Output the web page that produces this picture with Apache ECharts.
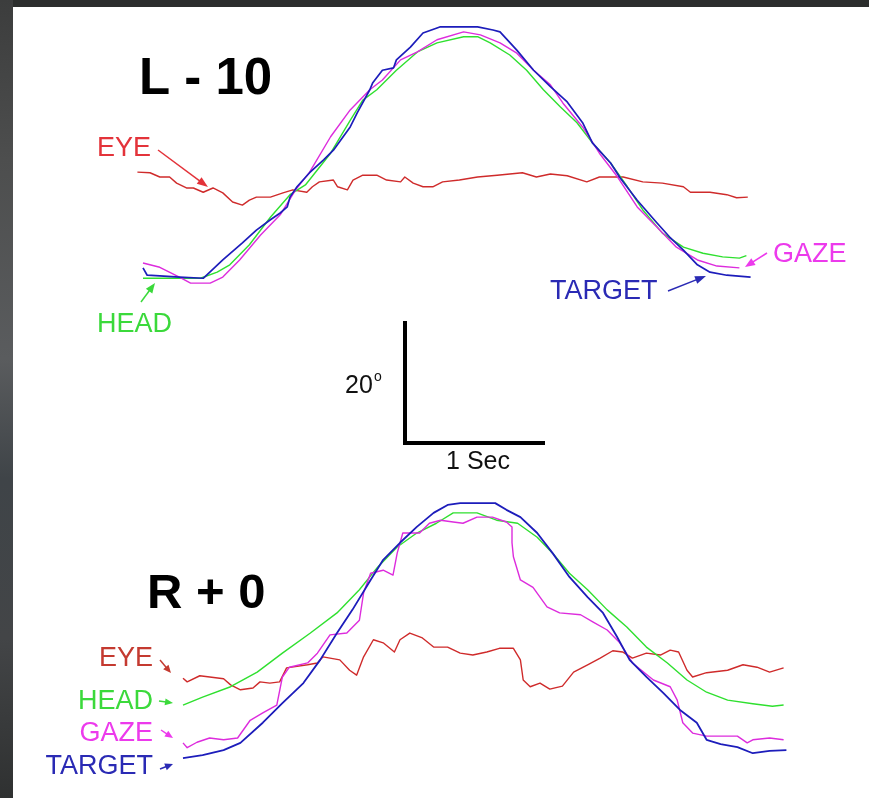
<!DOCTYPE html>
<html><head><meta charset="utf-8">
<script src="https://cdn.jsdelivr.net/npm/echarts@6.0.0/dist/echarts.min.js"></script>
<style>
html,body{margin:0;padding:0;background:#2e302f;overflow:hidden;}
#chart{width:869px;height:798px;}
</style></head>
<body><div id="chart"></div>
<script>
// ---- Data: [time (s), angle (deg)] ----
const topTitle = 'L - 10';
const bottomTitle = 'R + 0';
const traceNames = ['EYE', 'HEAD', 'GAZE', 'TARGET'];
const scaleBarSec = 1;
const scaleBarDeg = 20;

const topEye = [[-0.04,-3.3],[0.05,-3.4],[0.12,-4.1],[0.19,-4.1],[0.24,-5.1],[0.31,-5.9],[0.36,-5.9],[0.43,-6.6],[0.50,-5.9],[0.57,-6.7],[0.64,-8.2],[0.71,-8.7],[0.76,-7.9],[0.81,-7.4],[0.91,-7.4],[1.00,-6.7],[1.07,-6.2],[1.17,-6.6],[1.21,-5.7],[1.26,-4.9],[1.36,-4.6],[1.39,-5.7],[1.46,-6.2],[1.50,-4.6],[1.57,-3.8],[1.67,-3.8],[1.74,-4.6],[1.84,-4.9],[1.87,-4.1],[1.93,-5.1],[2.00,-5.7],[2.07,-5.7],[2.14,-4.9],[2.26,-4.6],[2.39,-4.1],[2.53,-3.8],[2.71,-3.4],[2.81,-4.1],[2.91,-3.6],[3.03,-3.9],[3.17,-4.9],[3.26,-4.1],[3.43,-4.1],[3.57,-4.9],[3.71,-5.1],[3.86,-5.7],[3.91,-6.6],[4.05,-6.6],[4.17,-7.0],[4.24,-7.5],[4.32,-7.4]];
const topHead = [[0,-20.7],[0.26,-20.7],[0.41,-20.7],[0.53,-19.7],[0.62,-18.5],[0.76,-15.2],[0.91,-10.7],[1.05,-7.0],[1.16,-5.4],[1.34,-0.2],[1.48,5.2],[1.57,8.5],[1.67,10.2],[1.81,13.4],[1.96,16.4],[2.10,17.9],[2.29,18.9],[2.39,18.9],[2.48,17.9],[2.62,15.9],[2.74,13.4],[2.86,10.2],[2.98,7.4],[3.10,4.8],[3.21,1.5],[3.34,-1.8],[3.46,-5.7],[3.57,-9.5],[3.71,-13.3],[3.86,-15.6],[4.00,-16.6],[4.14,-17.2],[4.26,-17.4],[4.31,-17.0]];
const topGaze = [[0,-18.2],[0.12,-18.9],[0.26,-20.5],[0.34,-21.5],[0.48,-21.5],[0.57,-20.5],[0.69,-17.7],[0.84,-13.6],[0.98,-10.3],[1.09,-6.2],[1.19,-3.3],[1.34,2.5],[1.48,6.9],[1.62,10.2],[1.71,11.8],[1.84,15.1],[1.96,16.4],[2.10,18.4],[2.29,19.7],[2.41,19.2],[2.55,17.9],[2.67,16.2],[2.79,13.4],[2.91,11.0],[3.00,8.0],[3.14,4.1],[3.26,-0.2],[3.39,-4.1],[3.53,-9.0],[3.67,-12.3],[3.81,-15.6],[3.96,-17.7],[4.10,-18.7],[4.26,-19.0]];
const topTarget = [[0,-19.0],[0.03,-20.2],[0.12,-20.3],[0.26,-20.5],[0.43,-20.7],[0.57,-17.7],[0.71,-14.9],[0.81,-12.8],[0.91,-11.1],[0.98,-10.0],[1.03,-9.0],[1.05,-7.4],[1.10,-5.7],[1.19,-3.4],[1.29,-1.3],[1.36,0.3],[1.48,4.1],[1.53,6.4],[1.62,10.2],[1.64,11.3],[1.71,13.4],[1.79,13.8],[1.81,15.1],[1.91,17.2],[2.00,19.5],[2.12,20.5],[2.39,20.5],[2.50,20.0],[2.55,19.7],[2.67,16.7],[2.79,13.4],[2.91,10.7],[3.03,8.2],[3.14,4.8],[3.21,1.5],[3.34,-1.8],[3.41,-4.3],[3.53,-7.9],[3.67,-11.6],[3.76,-13.9],[3.86,-16.1],[3.96,-18.5],[4.05,-19.7],[4.17,-20.2],[4.34,-20.5]];

const botEye = [[0,-7.9],[0.03,-8.5],[0.12,-7.5],[0.29,-8.0],[0.34,-9.0],[0.41,-9.8],[0.50,-9.5],[0.55,-8.5],[0.62,-8.7],[0.69,-8.5],[0.74,-6.2],[0.89,-5.7],[0.96,-5.4],[1.00,-4.4],[1.12,-4.9],[1.19,-6.6],[1.24,-7.4],[1.29,-4.4],[1.36,-1.6],[1.43,-2.1],[1.51,-3.6],[1.55,-1.6],[1.62,-0.5],[1.71,-1.3],[1.79,-2.8],[1.89,-2.8],[1.98,-3.8],[2.07,-4.1],[2.17,-3.6],[2.26,-3.0],[2.36,-3.0],[2.41,-4.9],[2.43,-8.2],[2.48,-9.3],[2.55,-8.7],[2.62,-9.7],[2.71,-9.2],[2.79,-6.9],[2.89,-5.7],[2.98,-4.6],[3.07,-3.4],[3.14,-3.6],[3.21,-4.6],[3.31,-3.8],[3.41,-4.1],[3.48,-3.3],[3.54,-3.6],[3.60,-6.6],[3.64,-7.7],[3.74,-7.0],[3.89,-6.6],[4.00,-5.7],[4.10,-6.1],[4.19,-6.9],[4.29,-6.2]];
const botHead = [[0,-12.3],[0.14,-11.0],[0.34,-9.3],[0.53,-6.9],[0.71,-3.8],[0.91,-0.5],[1.10,2.8],[1.26,6.6],[1.39,10.3],[1.53,13.6],[1.67,15.9],[1.81,17.5],[1.93,19.2],[2.10,19.2],[2.24,18.0],[2.39,17.5],[2.53,15.2],[2.64,12.6],[2.76,9.3],[2.89,6.6],[3.03,3.3],[3.17,0.5],[3.31,-2.8],[3.46,-5.4],[3.60,-8.2],[3.74,-10.2],[3.89,-11.5],[4.07,-12.1],[4.21,-12.5],[4.29,-12.3]];
const botGaze = [[0,-18.5],[0.03,-19.3],[0.10,-18.4],[0.19,-17.7],[0.29,-18.0],[0.39,-17.7],[0.48,-14.8],[0.57,-13.6],[0.67,-12.3],[0.71,-7.7],[0.76,-6.1],[0.89,-5.4],[0.96,-3.8],[1.05,-0.8],[1.17,-0.5],[1.26,1.6],[1.29,6.1],[1.34,9.3],[1.43,9.8],[1.50,9.0],[1.53,12.6],[1.57,15.9],[1.69,15.9],[1.76,17.5],[1.84,18.0],[1.93,17.7],[2.00,17.5],[2.10,18.5],[2.21,18.5],[2.31,17.7],[2.35,16.9],[2.35,14.3],[2.36,12.0],[2.41,8.2],[2.50,7.0],[2.55,5.4],[2.60,3.8],[2.69,2.8],[2.84,2.5],[2.93,1.3],[3.03,0],[3.12,-2.1],[3.21,-5.4],[3.36,-8.2],[3.48,-9.3],[3.53,-11.5],[3.57,-15.2],[3.64,-16.9],[3.74,-17.4],[3.96,-17.4],[4.03,-18.5],[4.07,-18.0],[4.19,-17.7],[4.29,-18.0]];
const botTarget = [[0,-21.0],[0.14,-20.5],[0.29,-19.7],[0.41,-18.5],[0.57,-15.2],[0.71,-12.0],[0.86,-8.7],[0.98,-4.9],[1.10,-0.5],[1.21,3.3],[1.34,8.2],[1.43,11.5],[1.55,14.3],[1.67,16.9],[1.79,19.2],[1.89,20.5],[1.98,20.8],[2.23,20.8],[2.31,19.7],[2.41,18.5],[2.53,15.9],[2.64,12.6],[2.76,8.7],[2.89,5.4],[3.00,2.8],[3.10,-1.1],[3.19,-4.9],[3.31,-7.7],[3.43,-10.3],[3.55,-13.1],[3.67,-15.2],[3.74,-18.0],[3.84,-18.7],[3.96,-19.2],[4.07,-20.2],[4.19,-19.8],[4.31,-19.7]];

// ---- Styling / layout ----
const PX_PER_SEC = 140, PX_PER_DEG = 6.1;
const C = {
  eye: '#cf2b2b', head: '#2fe02f', gaze: '#dd2cdd', target: '#1d1dbb',
  eyeLbl: '#e3333a', eyeLbl2: '#c43a30', headLbl: '#3bd93b', gazeLbl: '#ec3aec', targetLbl: '#2a2ab4'
};
const FONT = '"Liberation Sans", Arial, sans-serif';

function gridFor(x0, y0, tMin, tMax, dMin, dMax) {
  return {
    left: x0 + tMin * PX_PER_SEC,
    width: (tMax - tMin) * PX_PER_SEC,
    top: y0 - dMax * PX_PER_DEG,
    height: (dMax - dMin) * PX_PER_DEG,
    show: false, containLabel: false, outerBoundsMode: 'none'
  };
}
const grids = [
  gridFor(143, 152, -0.1, 4.5, -24, 24),
  gridFor(183, 630, -0.1, 4.5, -24, 24),
  gridFor(405, 443, 0, scaleBarSec, 0, scaleBarDeg)
];
const xAxes = [
  {gridIndex:0, type:'value', min:-0.1, max:4.5, show:false},
  {gridIndex:1, type:'value', min:-0.1, max:4.5, show:false},
  {gridIndex:2, type:'value', min:0, max:scaleBarSec, show:false}
];
const yAxes = [
  {gridIndex:0, type:'value', min:-24, max:24, show:false},
  {gridIndex:1, type:'value', min:-24, max:24, show:false},
  {gridIndex:2, type:'value', min:0, max:scaleBarDeg, show:false}
];

function trace(name, data, gi, color, width) {
  return {
    name, type: 'line', xAxisIndex: gi, yAxisIndex: gi, data,
    showSymbol: false, symbol: 'none', silent: true, animation: false,
    lineStyle: {color, width, join: 'round'}
  };
}
const series = [
  trace('EYE', topEye, 0, C.eye, 1.4),
  trace('HEAD', topHead, 0, C.head, 1.4),
  trace('GAZE', topGaze, 0, C.gaze, 1.4),
  trace('TARGET', topTarget, 0, C.target, 1.7),
  trace('EYE', botEye, 1, C.eye, 1.4),
  trace('HEAD', botHead, 1, C.head, 1.4),
  trace('GAZE', botGaze, 1, C.gaze, 1.4),
  trace('TARGET', botTarget, 1, C.target, 1.8),
  {
    type: 'line', xAxisIndex: 2, yAxisIndex: 2, silent: true, animation: false,
    showSymbol: false, symbol: 'none',
    data: [[0, scaleBarDeg], [0, 0], [scaleBarSec, 0]],
    lineStyle: {color: '#000', width: 4, cap: 'butt', join: 'miter'}
  }
];

function arrow(x1, y1, x2, y2, color, headLen, headW) {
  const dx = x2 - x1, dy = y2 - y1, L = Math.hypot(dx, dy);
  const ux = dx / L, uy = dy / L, px = -uy, py = ux;
  const bx = x2 - ux * headLen, by = y2 - uy * headLen;
  return [
    {type:'line', shape:{x1, y1, x2: bx + ux, y2: by + uy}, style:{stroke: color, lineWidth: 1.5}, z: 10},
    {type:'polygon', shape:{points:[[x2, y2], [bx + px * headW, by + py * headW], [bx - px * headW, by - py * headW]]}, style:{fill: color}, z: 10}
  ];
}
function label(text, x, y, color, size, align, weight) {
  return {type:'text', x, y, z: 10, style:{text, fill: color, font: (weight || 'normal') + ' ' + size + 'px ' + FONT, textAlign: align || 'left', textVerticalAlign: 'middle'}};
}

const graphic = [
  {type:'rect', shape:{x:0, y:0, width:13, height:798}, z:-10,
   style:{fill:{type:'linear', x:0, y:0, x2:0, y2:1, colorStops:[
     {offset:0, color:'#3c3d3d'},{offset:0.2, color:'#4d4e4e'},{offset:0.45, color:'#5a5c5e'},
     {offset:0.6, color:'#3f4448'},{offset:0.8, color:'#434547'},{offset:1, color:'#2f3131'}]}}},
  {type:'rect', shape:{x:13, y:0, width:856, height:7}, z:-10, style:{fill:'#2c2e2d'}},
  {type:'rect', shape:{x:13, y:7, width:856, height:791}, z:-9, style:{fill:'#ffffff'}},
  label(topTitle, 139, 80, '#000', 51, 'left', 'bold'),
  label(bottomTitle, 147, 594, '#000', 49, 'left', 'bold'),
  label(traceNames[0], 97, 149, C.eyeLbl, 27),
  label(traceNames[1], 97, 325, C.headLbl, 27),
  label(traceNames[2], 773, 255, C.gazeLbl, 27),
  label(traceNames[3], 550, 292, C.targetLbl, 27),
  label(traceNames[0], 153, 659, C.eyeLbl2, 27, 'right'),
  label(traceNames[1], 153, 702, C.headLbl, 27, 'right'),
  label(traceNames[2], 153, 734, C.gazeLbl, 27, 'right'),
  label(traceNames[3], 153, 767, C.targetLbl, 27, 'right'),
  label(String(scaleBarDeg), 345, 386, '#111', 25),
  label('o', 374, 377, '#111', 14),
  label(scaleBarSec + ' Sec', 478, 462, '#111', 25, 'center'),
  ...arrow(158, 150, 208, 187, C.eyeLbl, 11, 4),
  ...arrow(141, 302, 155, 283, C.headLbl, 10, 4),
  ...arrow(767, 253, 745, 267, C.gazeLbl, 10, 4),
  ...arrow(668, 291, 706, 276, C.targetLbl, 11, 4),
  ...arrow(160, 660, 171, 673, C.eyeLbl2, 8, 3.5),
  ...arrow(159, 701, 173, 703, C.headLbl, 8, 3.5),
  ...arrow(161, 730, 173, 738, C.gazeLbl, 8, 3.5),
  ...arrow(160, 769, 173, 764, C.targetLbl, 8, 3.5)
];

const chart = echarts.init(document.getElementById('chart'), null, {renderer: 'canvas'});
chart.setOption({
  animation: false,
  backgroundColor: 'transparent',
  grid: grids, xAxis: xAxes, yAxis: yAxes,
  series, graphic
});
</script>
</body></html>
